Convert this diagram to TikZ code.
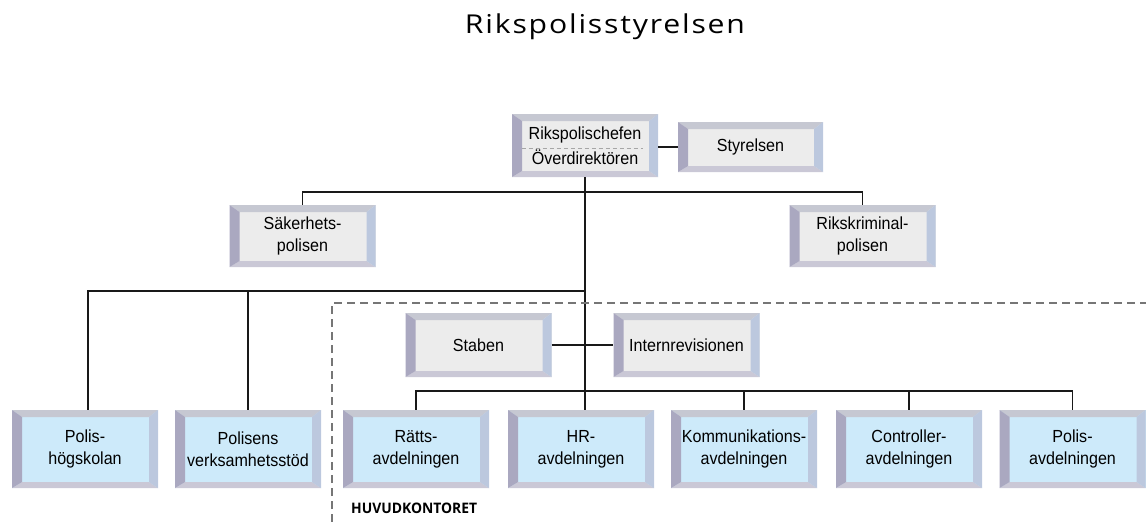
\documentclass[tikz,border=0pt]{standalone}
\usepackage{fontspec}
\usepackage{graphicx}
\setmainfont{Liberation Sans}
\newfontfamily\boxfont{Liberation Sans}[FakeStretch=0.92]
\newfontfamily\titlefont{Open Sans}[LetterSpace=6]
\newfontfamily\hkfont{Open Sans}
\definecolor{bvtop}{HTML}{C6C8D2}
\definecolor{bvleft}{HTML}{AAA8C0}
\definecolor{bvright}{HTML}{BCC8DE}
\definecolor{bvbot}{HTML}{CAC8D6}
\definecolor{facegray}{HTML}{ECECEC}
\definecolor{faceblue}{HTML}{CDEAFA}
\definecolor{framegray}{HTML}{767676}
\tikzset{
  bevel/.style={fill=#1, inner sep=0pt, minimum width=146pt, align=center,
    font=\boxfont\fontsize{17.5}{22}\selectfont,
    path picture={
      \fill[bvtop] (path picture bounding box.north west) -- (path picture bounding box.north east)
        -- ([xshift=-9pt,yshift=-7pt]path picture bounding box.north east)
        -- ([xshift=10pt,yshift=-7pt]path picture bounding box.north west) -- cycle;
      \fill[bvbot] (path picture bounding box.south west) -- (path picture bounding box.south east)
        -- ([xshift=-9pt,yshift=6pt]path picture bounding box.south east)
        -- ([xshift=10pt,yshift=6pt]path picture bounding box.south west) -- cycle;
      \fill[bvleft] (path picture bounding box.north west) -- (path picture bounding box.south west)
        -- ([xshift=10pt,yshift=6pt]path picture bounding box.south west)
        -- ([xshift=10pt,yshift=-7pt]path picture bounding box.north west) -- cycle;
      \fill[bvright] (path picture bounding box.north east) -- (path picture bounding box.south east)
        -- ([xshift=-9pt,yshift=6pt]path picture bounding box.south east)
        -- ([xshift=-9pt,yshift=-7pt]path picture bounding box.north east) -- cycle;
    }},
  graybox/.style={bevel=facegray},
  bluebox/.style={bevel=faceblue, minimum height=78pt},
  conn/.style={draw=black!90, line width=1.8pt},
  frame/.style={draw=framegray, line width=1.4pt, dash pattern=on 8pt off 5pt},
}
\begin{document}
\begin{tikzpicture}[x=1pt,y=-1pt]
\useasboundingbox (0,0) rectangle (1146,522);

\node[anchor=base, inner sep=0pt] (title) at (605,34)
  {\titlefont\fontsize{26}{30}\selectfont\resizebox{280pt}{\height}{Rikspolisstyrelsen}};

% boxes
\node[graybox, minimum height=63pt, font=\boxfont\fontsize{17.5}{25}\selectfont] (chef) at (585,145.5) {Rikspolischefen\\Överdirektören};
\node[graybox, minimum width=145pt, minimum height=50pt] (styr) at (750.5,147) {Styrelsen};
\node[graybox, minimum height=62pt] (sak) at (302.5,236) {Säkerhets-\\polisen};
\node[graybox, minimum height=62pt] (rkp) at (862.5,236) {Rikskriminal-\\polisen};
\node[graybox, minimum height=64pt] (staben) at (478.5,345) {Staben};
\node[graybox, minimum height=64pt] (intern) at (686.5,345) {Internrevisionen};

\node[bluebox] (phs) at (85,449) {Polis-\\högskolan};
\node[bluebox] (pvs) at (248,449) {Polisens\\verksamhetsstöd};
\node[bluebox] (ratt) at (416,449) {Rätts-\\avdelningen};
\node[bluebox] (hr) at (581,449) {HR-\\avdelningen};
\node[bluebox] (komm) at (744,449) {Kommunikations-\\avdelningen};
\node[bluebox] (ctrl) at (909,449) {Controller-\\avdelningen};
\node[bluebox] (pavd) at (1072.5,449) {Polis-\\avdelningen};

% dashed separator inside chef box
\draw[draw=gray!70, line width=0.6pt, dash pattern=on 4pt off 3pt]
  ([xshift=10pt,yshift=-2.5pt]chef.west) -- ([xshift=-15pt,yshift=-2.5pt]chef.east);

% junction coordinates
\coordinate (b1) at (585,192);
\coordinate (b2) at (585,291);
\coordinate (b3) at (585,391);

% connectors
\draw[conn] (chef.south) -- (chef.south |- hr.north);
\draw[conn] (chef.east |- styr.west) -- (styr.west);
\draw[conn] (sak.north) |- (b1) -| (rkp.north);
\draw[conn] ([xshift=3pt]phs.north) |- (b2);
\draw[conn] (pvs.north) -- (pvs.north |- b2);
\draw[conn] (staben.east) -- (intern.west);
\draw[conn] (ratt.north) |- (b3) -| (pavd.north);
\draw[conn] (komm.north) -- (komm.north |- b3);
\draw[conn] (ctrl.north) -- (ctrl.north |- b3);

% dashed frame of head office
\coordinate (fc) at (332,303);
\draw[frame] (332,522) -- (fc) -- (1146,303);

\node[anchor=base west, inner sep=0pt] (hk) at (351,513)
  {\hkfont\fontsize{14.5}{16}\selectfont\resizebox{126pt}{\height}{\textbf{HUVUDKONTORET}}};
\end{tikzpicture}
\end{document}
